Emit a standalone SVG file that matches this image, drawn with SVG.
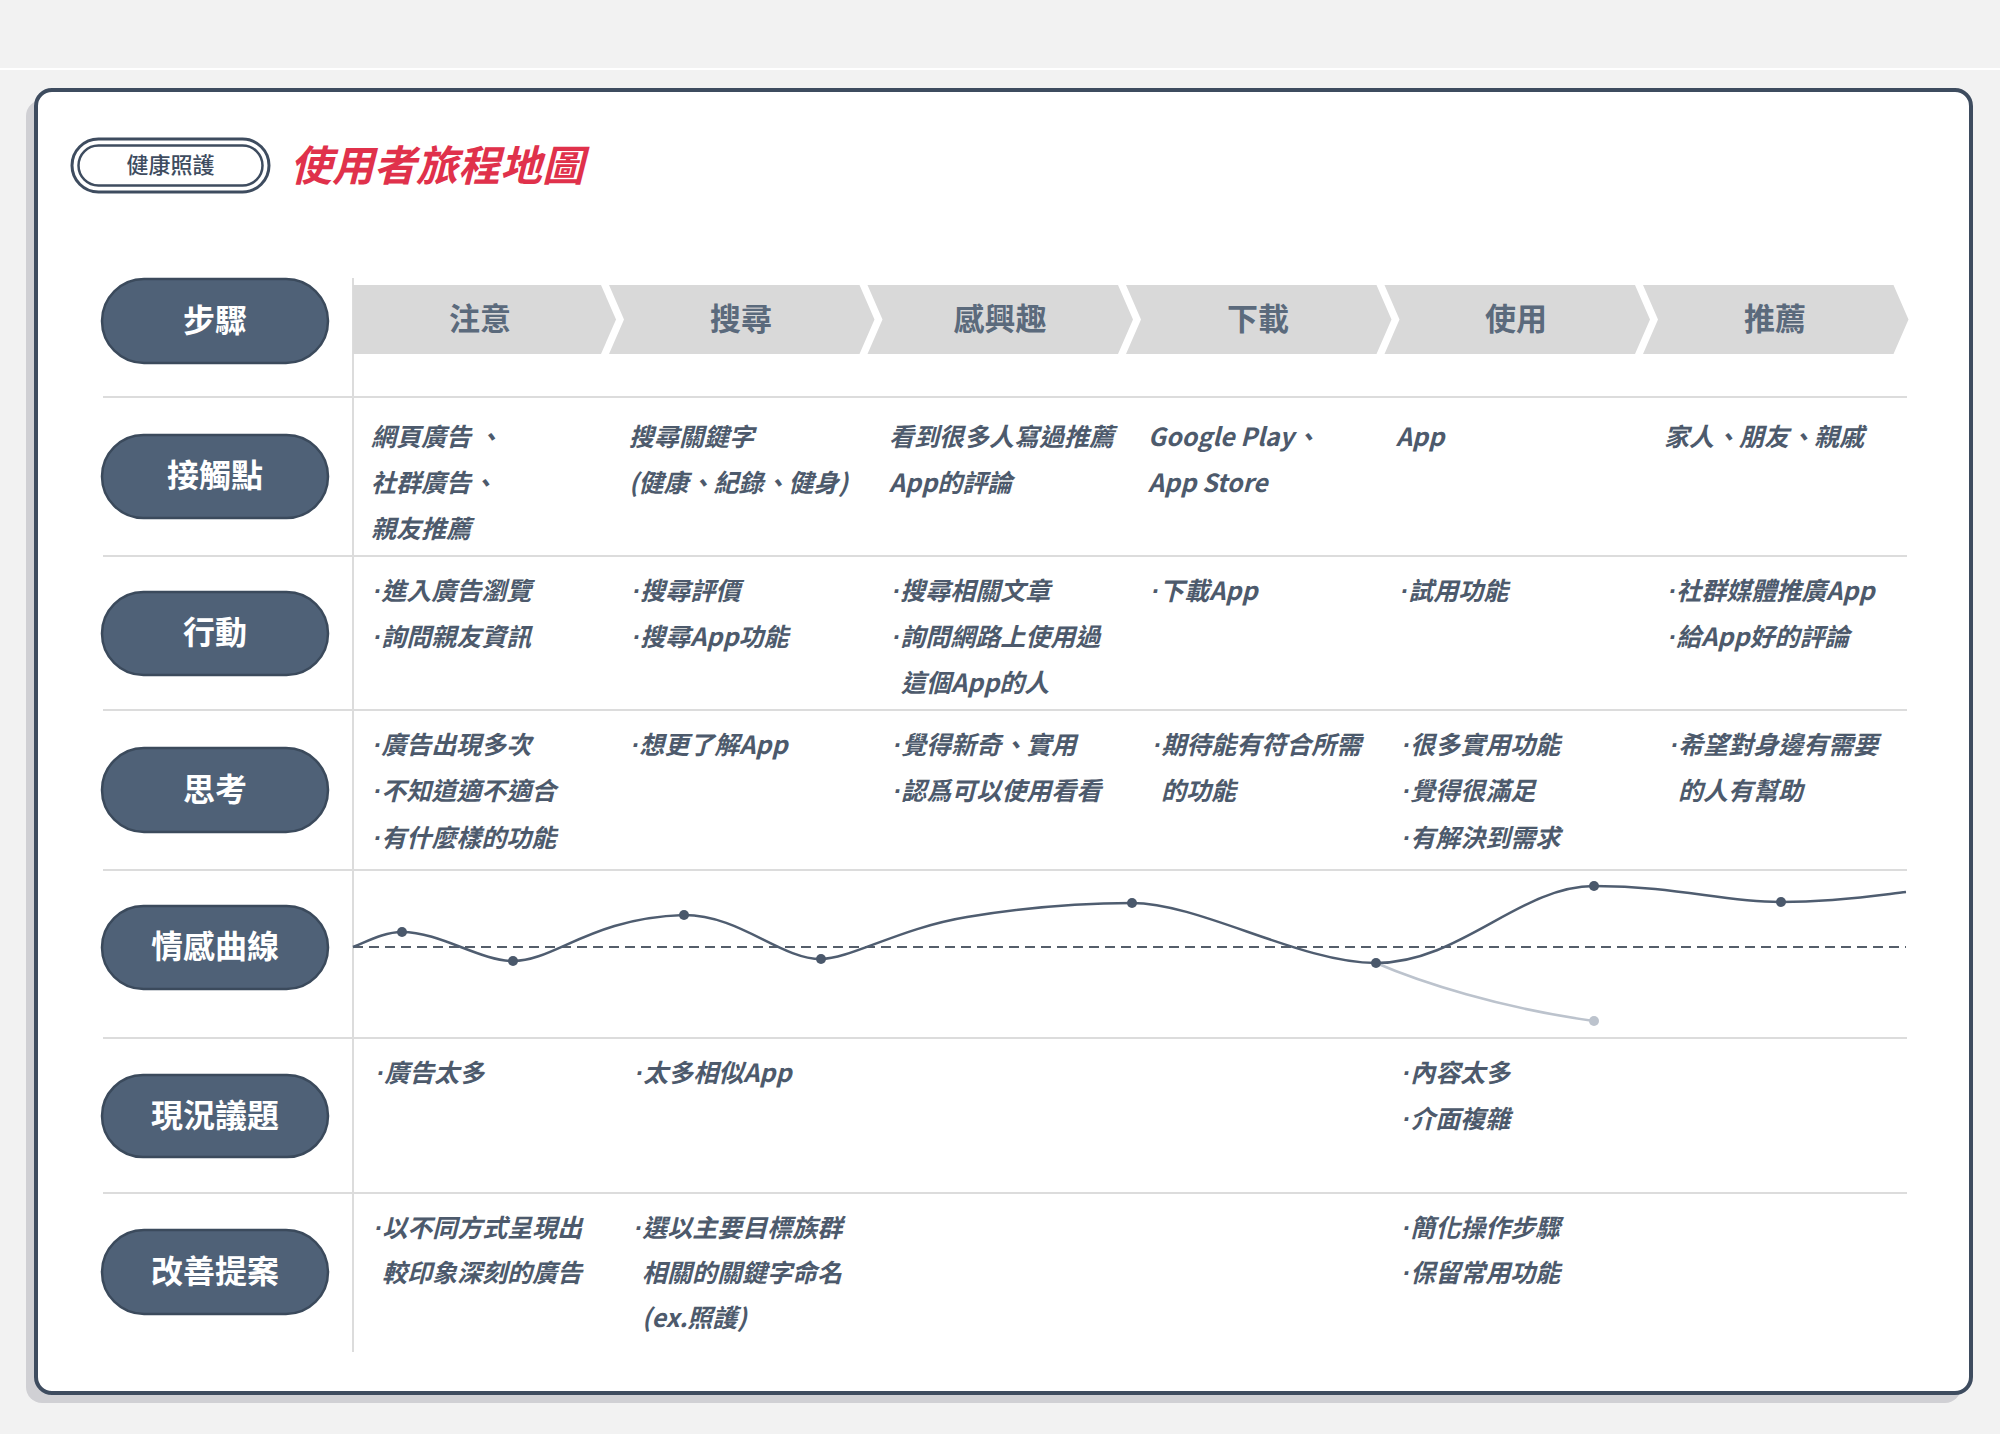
<svg xmlns="http://www.w3.org/2000/svg" width="2000" height="1434" viewBox="0 0 2000 1434">
<style>
.lbl{fill:#4f6177;stroke:#3b4a5c;stroke-width:2.5}
.lt{font-family:"Noto Sans CJK TC","Noto Sans CJK SC",sans-serif;font-size:32px;font-weight:700;fill:#ffffff;text-anchor:middle}
.chev{fill:#d9d9d9}
.st{font-family:"Noto Sans CJK TC","Noto Sans CJK SC",sans-serif;font-size:31px;font-weight:700;fill:#5b6a7c;text-anchor:middle}
.c{font-family:"Noto Sans CJK TC","Noto Sans CJK SC",sans-serif;font-size:25px;font-weight:700;font-style:italic;fill:#4d5a6c}
.b{font-family:"Liberation Sans",sans-serif}
.grid{stroke:#dcdcdc;stroke-width:2;fill:none}
.pt{fill:#4a586b}
</style>
<rect x="0" y="0" width="2000" height="1434" fill="#f2f2f2"/>
<line x1="0" y1="69" x2="2000" y2="69" stroke="#ffffff" stroke-width="2"/>
<g id="card">
<rect x="26" y="100" width="1935" height="1303" rx="16" fill="#d0d0d4"/>
<rect x="36" y="90" width="1935" height="1303" rx="16" fill="#ffffff" stroke="#3e4c5f" stroke-width="4"/>
</g>
<g id="header">
<rect x="72" y="139" width="197" height="53" rx="26.5" fill="#ffffff" stroke="#3e4c5f" stroke-width="3"/>
<rect x="78.5" y="145.5" width="184" height="40" rx="20" fill="none" stroke="#3e4c5f" stroke-width="2.5"/>
<text x="170.5" y="173" font-family="'Noto Sans CJK TC','Noto Sans CJK SC',sans-serif" font-size="22" font-weight="500" fill="#3e4c5f" text-anchor="middle">健康照護</text>
<text x="290" y="181" font-family="'Noto Sans CJK TC','Noto Sans CJK SC',sans-serif" font-size="42" font-weight="700" font-style="italic" fill="#e0314b">使用者旅程地圖</text>
</g>
<g id="grid">
<line class="grid" x1="353" y1="278" x2="353" y2="1352"/>
<line class="grid" x1="103" y1="397" x2="1907" y2="397"/>
<line class="grid" x1="103" y1="556" x2="1907" y2="556"/>
<line class="grid" x1="103" y1="710" x2="1907" y2="710"/>
<line class="grid" x1="103" y1="870" x2="1907" y2="870"/>
<line class="grid" x1="103" y1="1038" x2="1907" y2="1038"/>
<line class="grid" x1="103" y1="1193" x2="1907" y2="1193"/>
</g>
<g id="row-labels">
<g id="label-steps"><rect class="lbl" x="102" y="279" width="226" height="84" rx="42"/><text class="lt" x="215" y="332">步驟</text></g>
<g id="label-touch"><rect class="lbl" x="102" y="435" width="226" height="83" rx="41.5"/><text class="lt" x="215" y="487">接觸點</text></g>
<g id="label-action"><rect class="lbl" x="102" y="592" width="226" height="83" rx="41.5"/><text class="lt" x="215" y="644">行動</text></g>
<g id="label-think"><rect class="lbl" x="102" y="748" width="226" height="84" rx="42"/><text class="lt" x="215" y="801">思考</text></g>
<g id="label-emotion"><rect class="lbl" x="102" y="906" width="226" height="83" rx="41.5"/><text class="lt" x="215" y="958">情感曲線</text></g>
<g id="label-issue"><rect class="lbl" x="102" y="1075" width="226" height="82" rx="41"/><text class="lt" x="215" y="1127">現況議題</text></g>
<g id="label-improve"><rect class="lbl" x="102" y="1230" width="226" height="84" rx="42"/><text class="lt" x="215" y="1283">改善提案</text></g>
</g>
<g id="steps">
<g id="step-1"><path class="chev" d="M353,285 L601,285 L616,319.5 L601,354 L353,354 Z"/><text class="st" x="480" y="330">注意</text></g>
<g id="step-2"><path class="chev" d="M609,285 L859.5,285 L874.5,319.5 L859.5,354 L609,354 L624,319.5 Z"/><text class="st" x="741" y="330">搜尋</text></g>
<g id="step-3"><path class="chev" d="M867.5,285 L1118,285 L1133,319.5 L1118,354 L867.5,354 L882.5,319.5 Z"/><text class="st" x="1000" y="330">感興趣</text></g>
<g id="step-4"><path class="chev" d="M1126,285 L1376.5,285 L1391.5,319.5 L1376.5,354 L1126,354 L1141,319.5 Z"/><text class="st" x="1258" y="330">下載</text></g>
<g id="step-5"><path class="chev" d="M1384.5,285 L1635,285 L1650,319.5 L1635,354 L1384.5,354 L1399.5,319.5 Z"/><text class="st" x="1516" y="330">使用</text></g>
<g id="step-6"><path class="chev" d="M1643,285 L1893.5,285 L1908.5,319.5 L1893.5,354 L1643,354 L1658,319.5 Z"/><text class="st" x="1775" y="330">推薦</text></g>
</g>
<g id="touchpoints">
<text class="c" x="371" y="446">網頁廣告 、</text>
<text class="c" x="371" y="492">社群廣告、</text>
<text class="c" x="371" y="538">親友推薦</text>
<text class="c" x="629" y="446">搜尋關鍵字</text>
<text class="c" x="629" y="492">(健康、紀錄、健身)</text>
<text class="c" x="889" y="446">看到很多人寫過推薦</text>
<text class="c" x="889" y="492">App的評論</text>
<text class="c" x="1148" y="446">Google Play、</text>
<text class="c" x="1148" y="492">App Store</text>
<text class="c" x="1396" y="446">App</text>
<text class="c" x="1664" y="446">家人、朋友、親戚</text>
</g>
<g id="actions">
<text class="c" x="373" y="600"><tspan class="b">·</tspan>進入廣告瀏覽</text>
<text class="c" x="373" y="646"><tspan class="b">·</tspan>詢問親友資訊</text>
<text class="c" x="632" y="600"><tspan class="b">·</tspan>搜尋評價</text>
<text class="c" x="632" y="646"><tspan class="b">·</tspan>搜尋App功能</text>
<text class="c" x="892" y="600"><tspan class="b">·</tspan>搜尋相關文章</text>
<text class="c" x="892" y="646"><tspan class="b">·</tspan>詢問網路上使用過</text>
<text class="c" x="901" y="692">這個App的人</text>
<text class="c" x="1151" y="600"><tspan class="b">·</tspan>下載App</text>
<text class="c" x="1400" y="600"><tspan class="b">·</tspan>試用功能</text>
<text class="c" x="1668" y="600"><tspan class="b">·</tspan>社群媒體推廣App</text>
<text class="c" x="1668" y="646"><tspan class="b">·</tspan>給App好的評論</text>
</g>
<g id="thoughts">
<text class="c" x="373" y="754"><tspan class="b">·</tspan>廣告出現多次</text>
<text class="c" x="373" y="800"><tspan class="b">·</tspan>不知道適不適合</text>
<text class="c" x="373" y="847"><tspan class="b">·</tspan>有什麼樣的功能</text>
<text class="c" x="631" y="754"><tspan class="b">·</tspan>想更了解App</text>
<text class="c" x="893" y="754"><tspan class="b">·</tspan>覺得新奇、實用</text>
<text class="c" x="893" y="800"><tspan class="b">·</tspan>認爲可以使用看看</text>
<text class="c" x="1153" y="754"><tspan class="b">·</tspan>期待能有符合所需</text>
<text class="c" x="1161" y="800">的功能</text>
<text class="c" x="1402" y="754"><tspan class="b">·</tspan>很多實用功能</text>
<text class="c" x="1402" y="800"><tspan class="b">·</tspan>覺得很滿足</text>
<text class="c" x="1402" y="847"><tspan class="b">·</tspan>有解決到需求</text>
<text class="c" x="1670" y="754"><tspan class="b">·</tspan>希望對身邊有需要</text>
<text class="c" x="1678" y="800">的人有幫助</text>
</g>
<g id="connectors">
<line x1="353" y1="947" x2="1906" y2="947" stroke="#555e6a" stroke-width="2" stroke-dasharray="10 6"/>
<path d="M1376,963 C1420,982 1500,1008 1594,1021" fill="none" stroke="#bcc3cd" stroke-width="2.5"/>
<path d="M353,947 C370,940 385,932 402,932 C440,932 480,961 513,961 C555,961 590,918 684,915 C740,915 780,959 821,959 C850,959 900,928 967,917 C1034,906 1090,903 1132,903 C1200,903 1300,963 1376,963 C1460,963 1520,886 1594,886 C1680,886 1720,902 1781,902 C1840,902 1880,895 1906,892" fill="none" stroke="#4f5d70" stroke-width="2.5"/>
<circle class="pt" cx="402" cy="932" r="5"/>
<circle class="pt" cx="513" cy="961" r="5"/>
<circle class="pt" cx="684" cy="915" r="5"/>
<circle class="pt" cx="821" cy="959" r="5"/>
<circle class="pt" cx="1132" cy="903" r="5"/>
<circle class="pt" cx="1376" cy="963" r="5"/>
<circle class="pt" cx="1594" cy="886" r="5"/>
<circle class="pt" cx="1781" cy="902" r="5"/>
<circle cx="1594" cy="1021" r="5" fill="#bcc3cd"/>
</g>
<g id="issues">
<text class="c" x="376" y="1082"><tspan class="b">·</tspan>廣告太多</text>
<text class="c" x="635" y="1082"><tspan class="b">·</tspan>太多相似App</text>
<text class="c" x="1402" y="1082"><tspan class="b">·</tspan>內容太多</text>
<text class="c" x="1402" y="1128"><tspan class="b">·</tspan>介面複雜</text>
</g>
<g id="improvements">
<text class="c" x="374" y="1237"><tspan class="b">·</tspan>以不同方式呈現出</text>
<text class="c" x="382" y="1282">較印象深刻的廣告</text>
<text class="c" x="634" y="1237"><tspan class="b">·</tspan>選以主要目標族群</text>
<text class="c" x="642" y="1282">相關的關鍵字命名</text>
<text class="c" x="642" y="1327">(ex.照護)</text>
<text class="c" x="1402" y="1237"><tspan class="b">·</tspan>簡化操作步驟</text>
<text class="c" x="1402" y="1282"><tspan class="b">·</tspan>保留常用功能</text>
</g>
</svg>
